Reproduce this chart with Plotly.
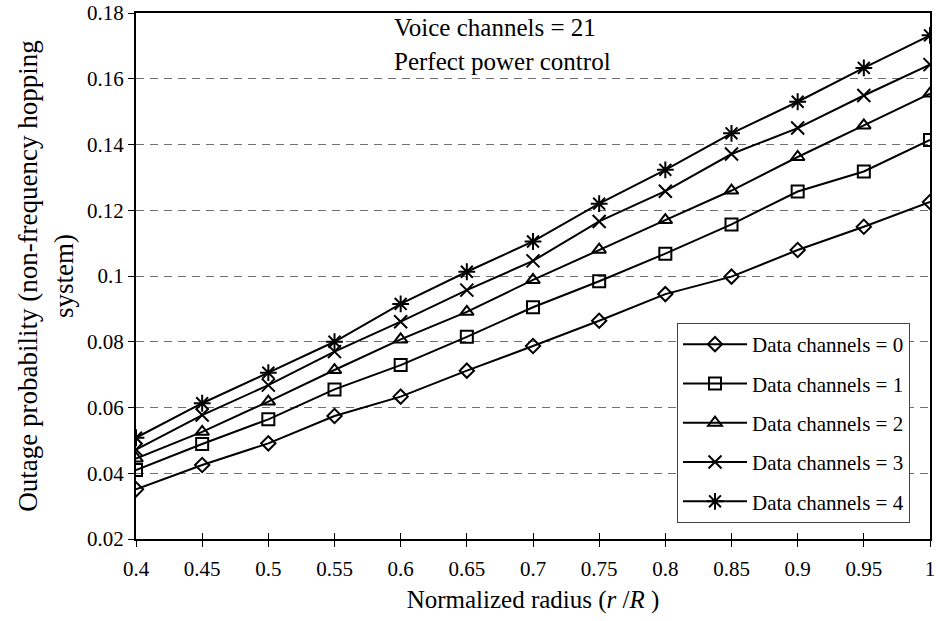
import plotly.graph_objects as go

radius = [0.4, 0.45, 0.5, 0.55, 0.6, 0.65, 0.7, 0.75, 0.8, 0.85, 0.9, 0.95, 1.0]
data_ch0 = [0.0351, 0.0425, 0.0491, 0.0574, 0.0633, 0.0712, 0.0787, 0.0864, 0.0945, 0.0998, 0.1079, 0.1150, 0.1225]
data_ch1 = [0.0410, 0.0489, 0.0564, 0.0655, 0.0729, 0.0815, 0.0905, 0.0984, 0.1068, 0.1157, 0.1257, 0.1318, 0.1414]
data_ch2 = [0.0445, 0.0526, 0.0618, 0.0714, 0.0807, 0.0891, 0.0988, 0.1080, 0.1170, 0.1260, 0.1362, 0.1458, 0.1555]
data_ch3 = [0.0472, 0.0577, 0.0668, 0.0770, 0.0861, 0.0957, 0.1046, 0.1166, 0.1258, 0.1371, 0.1450, 0.1549, 0.1643]
data_ch4 = [0.0508, 0.0613, 0.0706, 0.0800, 0.0915, 0.1013, 0.1105, 0.1220, 0.1323, 0.1434, 0.1530, 0.1633, 0.1732]

series_names = ["Data channels = 0", "Data channels = 1", "Data channels = 2",
                "Data channels = 3", "Data channels = 4"]
series_values = [data_ch0, data_ch1, data_ch2, data_ch3, data_ch4]
symbols = ["diamond-open", "square-open", "triangle-up-open", "x-thin-open", "asterisk-open"]
sizes = [11, 12, 12, 13, 14]

x_ticks = [0.4, 0.45, 0.5, 0.55, 0.6, 0.65, 0.7, 0.75, 0.8, 0.85, 0.9, 0.95, 1.0]
x_ticklabels = ["0.4", "0.45", "0.5", "0.55", "0.6", "0.65", "0.7", "0.75", "0.8", "0.85", "0.9", "0.95", "1"]
y_ticks = [0.02, 0.04, 0.06, 0.08, 0.1, 0.12, 0.14, 0.16, 0.18]
y_ticklabels = ["0.02", "0.04", "0.06", "0.08", "0.1", "0.12", "0.14", "0.16", "0.18"]

annotation_texts = ["Voice channels = 21", "Perfect power control"]

FONT = "Liberation Serif, Times New Roman, serif"
W, H = 936, 621
ML, MR, MT, MB = 136, 6, 13, 82
plot_w = W - ML - MR
plot_h = H - MT - MB


def px_to_paper(xp, yp):
    return (xp - ML) / plot_w, 1 - (yp - MT) / plot_h


fig = go.Figure()
for i, (name, vals) in enumerate(zip(series_names, series_values)):
    fig.add_trace(go.Scatter(
        x=radius, y=vals, name=name, mode="lines+markers",
        legendgroup=f"g{i}",
        line=dict(color="black", width=2),
        marker=dict(symbol=symbols[i], size=sizes[i], color="black",
                    line=dict(color="black", width=2)),
    ))

# invisible helper trace on an overlay axis -> ticks crossing the x axis
fig.add_trace(go.Scatter(x=[radius[0]], y=[data_ch0[0]], xaxis="x2", mode="markers",
                         marker=dict(opacity=0), showlegend=False, hoverinfo="skip"))

lx, ly = px_to_paper(677, 323)
a1x, a1y = px_to_paper(392, 28)
a2x, a2y = px_to_paper(392, 62)

fig.update_layout(
    width=W, height=H,
    margin=dict(l=ML, r=MR, t=MT, b=MB, autoexpand=False),
    paper_bgcolor="white", plot_bgcolor="white",
    font=dict(family=FONT, size=21, color="black"),
    showlegend=True,
    legend=dict(
        x=lx, y=ly, xanchor="left", yanchor="top",
        bordercolor="#444444", borderwidth=1, bgcolor="white",
        font=dict(family=FONT, size=21, color="black"),
        traceorder="grouped", tracegroupgap=9, itemwidth=64,
    ),
    xaxis=dict(
        range=[0.4, 1.0], tickvals=x_ticks, ticktext=x_ticklabels,
        showline=True, mirror=True, linecolor="black", linewidth=2,
        ticks="outside", ticklen=6, tickwidth=1, tickcolor="black",
        showgrid=False, zeroline=False, automargin=False,
        ticklabeloverflow="allow", ticklabelstandoff=4,
        tickfont=dict(family=FONT, size=21),
        title=dict(text="Normalized radius (<i>r</i> /<i>R</i> )",
                   font=dict(family=FONT, size=25), standoff=10),
    ),
    xaxis2=dict(
        range=[0.4, 1.0], tickvals=x_ticks, overlaying="x", anchor="y", side="bottom",
        ticks="inside", ticklen=6, tickwidth=1, tickcolor="black",
        showticklabels=False, showgrid=False, zeroline=False, showline=False,
    ),
    yaxis=dict(
        range=[0.02, 0.18], tickvals=y_ticks, ticktext=y_ticklabels,
        showline=True, mirror=True, linecolor="black", linewidth=2,
        ticks="outside", ticklen=6, tickwidth=1, tickcolor="black",
        showgrid=True, gridcolor="#707070", griddash="8px,6px", gridwidth=1,
        zeroline=False, automargin=False, ticklabeloverflow="allow",
        tickfont=dict(family=FONT, size=21),
        title=dict(text="Outage probability (non-frequency hopping<br>system)",
                   font=dict(family=FONT, size=27), standoff=6),
    ),
    annotations=[
        dict(text=annotation_texts[0], x=a1x, y=a1y, xref="paper", yref="paper",
             showarrow=False, font=dict(family=FONT, size=25), xanchor="left", yanchor="middle"),
        dict(text=annotation_texts[1], x=a2x, y=a2y, xref="paper", yref="paper",
             showarrow=False, font=dict(family=FONT, size=25), xanchor="left", yanchor="middle"),
    ],
)

fig.write_html("out.html",
               config={"displayModeBar": False},
               post_script="document.body.style.margin='0';document.body.style.overflow='hidden';")
